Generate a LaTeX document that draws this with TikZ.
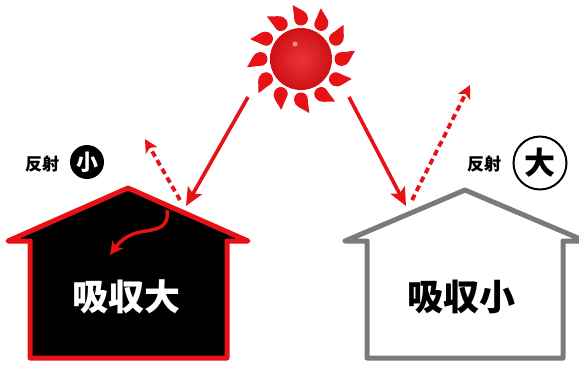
\documentclass[tikz,border=0pt]{standalone}
\usepackage{fontspec}
\newfontfamily\cjkb{Noto Sans CJK JP Black}
\usetikzlibrary{arrows.meta}
\definecolor{sunred}{RGB}{230,18,22}
\definecolor{wallgray}{RGB}{122,122,122}
\tikzset{
  house/.style={line width=5pt, line join=round},
  ray/.style={sunred, line width=3.6pt, -{Stealth[length=18pt,width=16pt,inset=4pt]}},
  bounce/.style={sunred, line width=3.8pt, dash pattern=on 6pt off 4pt,
                 -{Stealth[length=13pt,width=13pt,inset=3pt]}},
  bigtext/.style={font=\cjkb\fontsize{36}{36}\selectfont, inner sep=0pt},
  labeltext/.style={font=\cjkb\fontsize{17}{17}\selectfont, inner sep=0pt},
  flame/.style={fill=sunred},
}
\begin{document}
\begin{tikzpicture}[x=1pt,y=-1pt]
\clip (0,0) rectangle (579,365);
\fill[white] (0,0) rectangle (579,365);

% dark house: absorbs a lot
\draw[house, draw=sunred, fill=black]
  (8,241) -- (128,188) -- (248,241) -- (227,241) -- (227,358)
  -- (30,358) -- (30,241) -- cycle;
% light house: absorbs little
\draw[house, draw=wallgray, fill=white]
  (345,241) -- (465,190) -- (585,241) -- (563,241) -- (563,358)
  -- (367,358) -- (367,241) -- cycle;

% sun
\coordinate (sun) at (301,59);
\shade[inner color=sunred!85!white, outer color=sunred!90!black] (sun) circle (31pt);
\fill[white, opacity=0.5] (295,44) circle (2.5pt);
\begin{scope}[shift={(sun)}]
  \foreach \a in {0,30,...,330}
    \fill[flame, rotate=\a]
      (54,-8) .. controls (50,-3) and (48,7) .. (41,7)
      .. controls (36,7) and (33.5,3.6) .. (33.5,0)
      .. controls (33.5,-4.2) and (36.5,-6.8) .. (40.5,-6.8)
      .. controls (45.5,-6.8) and (50.5,-8.5) .. (54,-8) -- cycle;
\end{scope}

% sunlight rays and their reflections
\coordinate (srcL) at (248,97);
\coordinate (hitL) at (186,206);
\coordinate (outL0) at (180,200);
\coordinate (outL) at (145,139);
\coordinate (srcR) at (349,97);
\coordinate (hitR) at (406,206);
\coordinate (outR0) at (412,200);
\coordinate (outR) at (470,85);
\draw[ray] (srcL) -- (hitL);
\draw[ray] (srcR) -- (hitR);
\draw[bounce] (outL0) -- (outL);
\draw[bounce] (outR0) -- (outR);

% heat passing into the dark roof
\coordinate (inA) at (167,210);
\coordinate (inB) at (110,255);
\draw[sunred, line width=3.4pt, -{Stealth[length=13pt,width=13pt,inset=3pt]}]
  (inA) .. controls (170,232) and (150,229) .. (136,233)
  .. controls (127,236) and (121,240) .. (inB);

% labels
\node[bigtext, text=white] (absL) at (126,297) {吸収大};
\node[bigtext, text=black] (absR) at (461,297) {吸収小};

\node[labeltext] (refL) at (42,164) {反射};
\node[circle, fill=black, minimum size=34pt, inner sep=0pt,
      text=white, font=\cjkb\fontsize{22}{22}\selectfont] (lowL) at (87,162) {小};
\node[labeltext] (refR) at (484,164) {反射};
\node[circle, draw=black, line width=2pt, fill=white, minimum size=53pt, inner sep=0pt,
      font=\cjkb\fontsize{31}{31}\selectfont] (highR) at (540,163) {大};
\end{tikzpicture}
\end{document}
